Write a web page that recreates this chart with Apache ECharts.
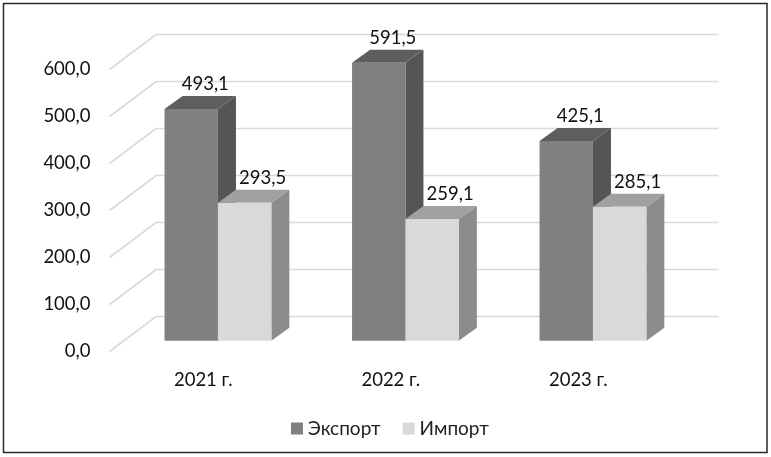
<!DOCTYPE html>
<html>
<head>
<meta charset="utf-8">
<style>html,body{margin:0;padding:0;background:#fff}#c{width:771px;height:457px}</style>
<script src="https://cdn.jsdelivr.net/npm/echarts@6/dist/echarts.min.js"></script>
</head>
<body>
<div id="c"></div>
<script>
const categories = ['2021 г.', '2022 г.', '2023 г.'];
const exportValues = [493.1, 591.5, 425.1];
const importValues = [293.5, 259.1, 285.1];
const valueTicks = [0, 100, 200, 300, 400, 500, 600];

const FONT = 'Lato';
const TXT = '#111';
const wall = {dx: 46.5, dy: -35};
const shift = {dx: 14.7, dy: -10.7};
const depth = {dx: 18, dy: -13};
const barW = 53.4;

const fmt = v => v.toFixed(1).replace('.', ',');

function gridItem(params, api) {
  const v = api.value(0);
  const cs = params.coordSys;
  const y = api.coord([0, v])[1];
  const x0 = cs.x, x1 = x0 + wall.dx, x2 = cs.x + cs.width + wall.dx;
  return {
    type: 'polyline',
    shape: {points: [[x0, y], [x1, y + wall.dy], [x2, y + wall.dy]]},
    style: {stroke: '#d9d9d9', lineWidth: 1.6, fill: 'none'},
    silent: true
  };
}

function barRenderer(side, colors, labelDx) {
  return function (params, api) {
    const c = api.coord([api.value(0), api.value(1)]);
    const b = api.coord([api.value(0), 0]);
    const l = c[0] + shift.dx + (side === 0 ? -barW : 0);
    const r = l + barW;
    const t = c[1] + shift.dy;
    const bt = b[1] + shift.dy;
    const dx = depth.dx, dy = depth.dy;
    return {
      type: 'group',
      children: [
        {type: 'polygon', shape: {points: [[r, t], [r + dx, t + dy], [r + dx, bt + dy], [r, bt]]}, style: {fill: colors.side}},
        {type: 'polygon', shape: {points: [[l, t], [l + dx, t + dy], [r + dx, t + dy], [r, t]]}, style: {fill: colors.top}},
        {type: 'rect', shape: {x: l, y: t, width: barW, height: bt - t}, style: {fill: colors.front}},
        {type: 'text', z2: 50, style: {
          x: (l + r) / 2 + labelDx, y: t + dy - 12, text: fmt(api.value(1)),
          font: '18.5px ' + FONT, fill: TXT, align: 'center', verticalAlign: 'middle'
        }}
      ]
    };
  };
}

const darkColors = {front: '#808080', side: '#555555', top: '#5e5e5e'};
const lightColors = {front: '#d9d9d9', side: '#8c8c8c', top: '#a0a0a0'};

const chart = echarts.init(document.getElementById('c'), null, {renderer: 'canvas'});
chart.setOption({
  animation: false,
  backgroundColor: '#fff',
  textStyle: {fontFamily: FONT},
  grid: {left: 109.5, top: 69.5, width: 562.5, height: 282},
  xAxis: {
    type: 'category', data: categories,
    axisLine: {show: false}, axisTick: {show: false},
    axisLabel: {fontSize: 18.5, color: TXT, fontFamily: FONT, margin: 19}
  },
  yAxis: {
    type: 'value', min: 0, max: 600, interval: 100,
    axisLine: {show: false}, axisTick: {show: false}, splitLine: {show: false},
    axisLabel: {fontSize: 18.5, color: TXT, fontFamily: FONT, margin: 19, padding: [3, 0, 0, 0], formatter: v => fmt(v)}
  },
  legend: {
    data: [
      {name: 'Экспорт', itemStyle: {color: '#808080'}},
      {name: 'Импорт', itemStyle: {color: '#d9d9d9'}}
    ],
    left: 286, top: 414, icon: 'rect', itemWidth: 12, itemHeight: 12, itemGap: 22,
    textStyle: {fontSize: 19, color: '#222', fontFamily: FONT, padding: [0, 0, 0, 0]}
  },
  graphic: [{
    type: 'rect', z: -1, silent: true,
    shape: {x: 3.5, y: 3.5, width: 763.5, height: 449},
    style: {fill: '#fff', stroke: '#2a2a2a', lineWidth: 1.5}
  }],
  series: [
    {type: 'custom', name: 'Сетка', z: 1, silent: true, renderItem: gridItem, encode: {y: 0},
      data: valueTicks.map(v => [v])},
    {type: 'custom', name: 'Экспорт', z: 2, color: '#808080', renderItem: barRenderer(0, darkColors, 14),
      encode: {x: 0, y: 1}, data: exportValues.map((v, i) => [i, v])},
    {type: 'custom', name: 'Импорт', z: 3, color: '#d9d9d9', renderItem: barRenderer(1, lightColors, 18),
      encode: {x: 0, y: 1}, data: importValues.map((v, i) => [i, v])}
  ]
});
</script>
</body>
</html>
